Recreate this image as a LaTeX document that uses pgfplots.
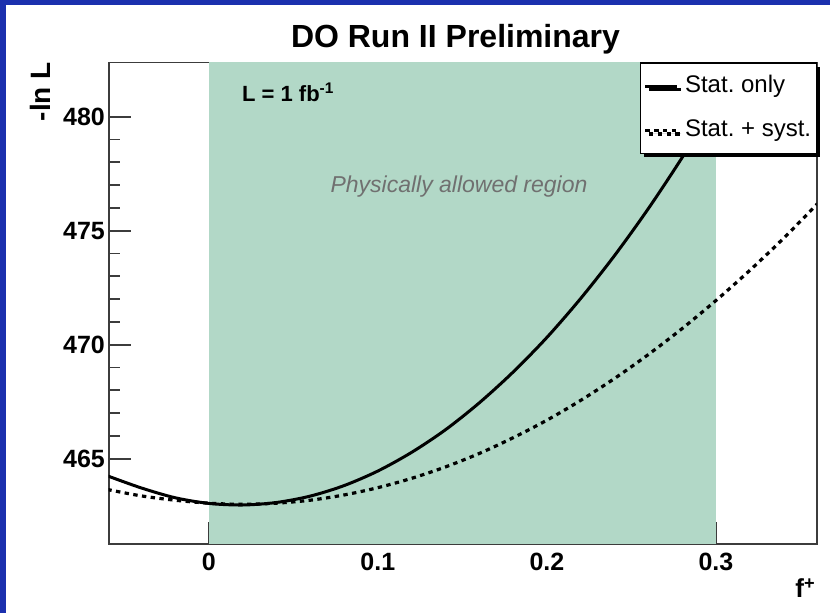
\documentclass[border=0pt]{standalone}
\usepackage{fontspec}
\setmainfont{Liberation Sans}
\usepackage{pgfplots}
\pgfplotsset{compat=1.18}
\usetikzlibrary{shadows}
\definecolor{allowed}{RGB}{178,216,199}
\definecolor{frameblue}{RGB}{27,48,174}
\definecolor{axisgray}{RGB}{60,60,60}
\definecolor{notegray}{RGB}{112,112,112}
\frenchspacing

\begin{document}
\begin{tikzpicture}[x=1pt,y=1pt]
% page background and blue slide border
\fill[white] (0,0) rectangle (415,306.5);
\fill[frameblue] (0,0) rectangle (3,306.5);
\fill[frameblue] (0,304.15) rectangle (415,306.5);

\begin{axis}[
    at={(54.35pt,34.5pt)}, anchor=south west,
    scale only axis, width=354pt, height=240.75pt,
    xmin=-0.0592, xmax=0.3596, ymin=461.26, ymax=482.38,
    xtick={0,0.1,0.2,0.3}, ytick={465,470,475,480},
    minor x tick num=4, minor y tick num=4,
    xtick pos=left, ytick pos=left,
    major tick length=11pt, minor tick length=5.5pt,
    axis line style={axisgray, line width=0.9pt},
    tick style={axisgray, line width=0.9pt},
    /pgf/number format/assume math mode=true,
    ticklabel style={font=\fontsize{12.5}{15}\selectfont\bfseries, inner sep=0pt},
    xticklabel style={yshift=-4.5pt},
    yticklabel style={xshift=-1.7pt},
    legend cell align=left,
    legend image code/.code={\draw[#1, line width=1.6pt] (0pt,0pt) -- (16pt,0pt);},
    legend style={at={(1,1)}, anchor=north east, draw=black, line width=0.6pt,
        fill=white, drop shadow={shadow xshift=1.8pt, shadow yshift=-1.8pt, fill=black, opacity=1},
        font=\fontsize{12}{14}\selectfont, inner xsep=1.5pt, inner ysep=5pt,
        row sep=9pt, column sep=2pt,
        nodes={inner sep=1pt, text height=8.6pt, text depth=2.5pt}},
]
% physically allowed region
\addplot[fill=allowed, draw=none, forget plot] coordinates {
    (0,461.26) (0.3,461.26) (0.3,482.38) (0,482.38)} -- cycle;

\addplot[black, line width=1.5pt, smooth] coordinates {
    (-0.06,464.25) (-0.04,463.72) (-0.02,463.29) (0,463.04) (0.02,462.97)
    (0.04,463.08) (0.06,463.36) (0.08,463.82) (0.10,464.46) (0.12,465.28)
    (0.14,466.27) (0.16,467.45) (0.18,468.80) (0.20,470.32) (0.22,472.03)
    (0.24,473.91) (0.26,475.97) (0.28,478.21) (0.30,480.62) (0.32,483.20)
};
\addlegendentry{Stat. only}

\addplot[black, line width=1.6pt, dash pattern=on 2.2pt off 2.2pt, smooth] coordinates {
    (-0.06,463.65) (-0.04,463.37) (-0.02,463.18) (0,463.05) (0.02,463.00)
    (0.04,463.05) (0.06,463.18) (0.08,463.41) (0.10,463.73) (0.12,464.14)
    (0.14,464.64) (0.16,465.23) (0.18,465.92) (0.20,466.69) (0.22,467.56)
    (0.24,468.52) (0.26,469.57) (0.28,470.71) (0.30,471.94) (0.32,473.26)
    (0.34,474.67) (0.36,476.18)
};
\addlegendentry{Stat. + syst.}
\end{axis}

\node[anchor=base, font=\fontsize{16}{19}\selectfont\bfseries, inner sep=0pt] at (227.75,282.5) {DO Run II Preliminary};
\node[anchor=base east, rotate=90, font=\fontsize{14}{17}\selectfont\bfseries, inner sep=0pt] at (25,275.65) {-ln L};
\node[anchor=base west, font=\fontsize{13}{15}\selectfont\bfseries, inner sep=0pt] at (397.5,7.5) {f\textsuperscript{+}};
\node[anchor=base west, font=\fontsize{11}{13}\selectfont\bfseries, inner sep=0pt] at (120.85,255.65) {L = 1 fb\textsuperscript{-1}};
\node[anchor=base, font=\fontsize{11.5}{14}\selectfont\itshape, text=notegray, inner sep=0pt] at (229.5,210) {Physically allowed region};

\pgfresetboundingbox
\path[use as bounding box] (0,0) rectangle (415,306.5);
\end{tikzpicture}
\end{document}
